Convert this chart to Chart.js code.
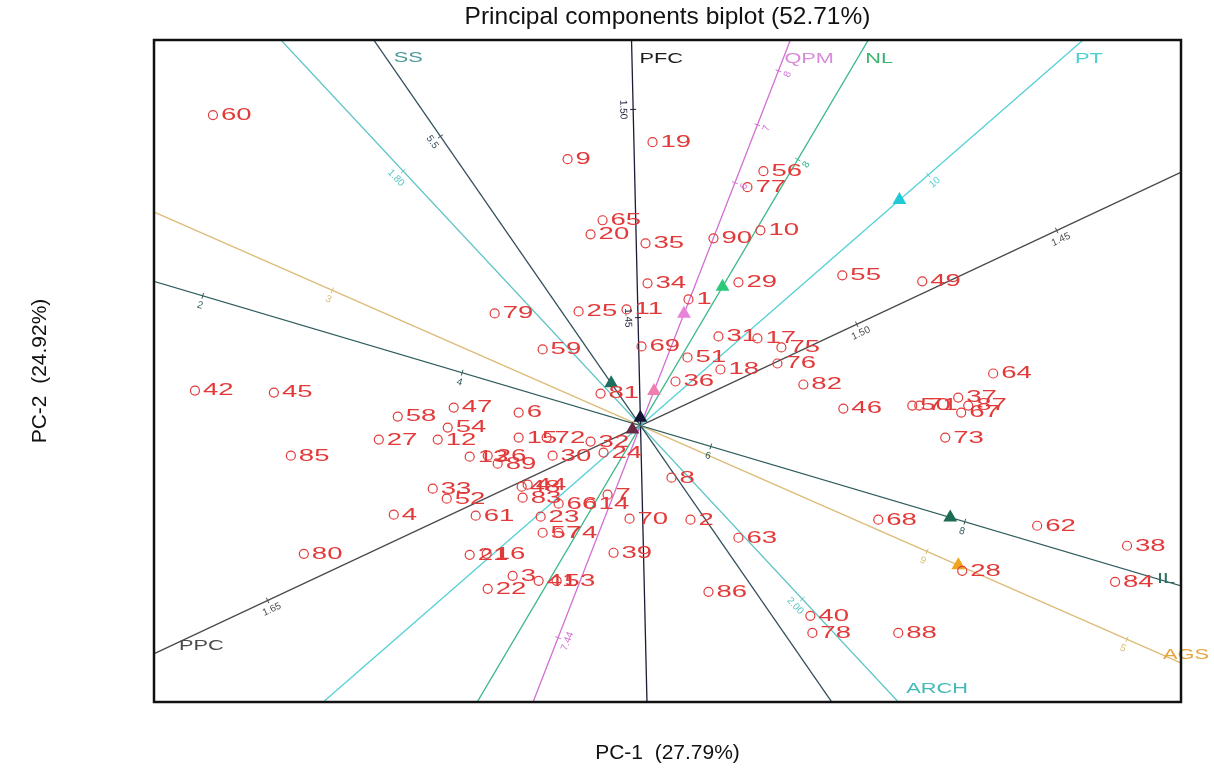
<!DOCTYPE html>
<html>
<head>
<meta charset="utf-8">
<title>Principal components biplot</title>
<script src="https://cdn.jsdelivr.net/npm/chart.js@4.4.1/dist/chart.umd.min.js"></script>
<style>
  html, body { margin: 0; padding: 0; background: #fff; }
  #wrap { width: 1214px; height: 775px; position: relative; }
</style>
</head>
<body>
<div id="wrap"><canvas id="biplot"></canvas></div>
<script>
// genotype scores (PC-1, PC-2)
const genotypes = ["60","9","19","56","77","65","20","35","90","10","34","29","1","25","11","79","55","49","69","59",
  "31","17","75","51","76","18","36","82","81","64","37","46","50","71","87","67","73","42","45","58",
  "47","54","27","12","85","6","15","72","32","30","24","8","13","26","89","33","52","48","44","83",
  "61","4","80","23","66","14","7","70","2","63","57","74","39","21","16","3","22","41","53","86",
  "40","78","88","68","62","38","28","84"];
const pc1 = [-4.28,-0.73,0.12,1.23,1.07,-0.38,-0.50,0.05,0.73,1.20,0.07,0.98,0.48,-0.62,-0.14,-1.46,2.02,2.82,0.01,-0.98,
  0.78,1.17,1.41,0.47,1.37,0.80,0.35,1.63,-0.40,3.53,3.18,2.03,2.72,2.79,3.28,3.21,3.05,-4.46,-3.67,-2.43,
  -1.87,-1.93,-2.62,-2.03,-3.50,-1.22,-1.22,-0.94,-0.50,-0.88,-0.37,0.31,-1.71,-1.53,-1.43,-2.08,-1.94,-1.19,-1.13,-1.18,
  -1.65,-2.47,-3.37,-1.00,-0.82,-0.50,-0.33,-0.11,0.50,0.98,-0.98,-0.82,-0.27,-1.71,-1.54,-1.28,-1.53,-1.02,-0.84,0.68,
  1.70,1.72,2.58,2.38,3.97,4.87,3.22,4.75];
const pc2 = [3.10,2.66,2.83,2.54,2.38,2.05,1.91,1.82,1.87,1.95,1.42,1.43,1.26,1.14,1.16,1.12,1.50,1.44,0.79,0.76,
  0.89,0.87,0.78,0.68,0.62,0.56,0.44,0.41,0.32,0.52,0.28,0.17,0.20,0.20,0.20,0.13,-0.12,0.35,0.33,0.09,
  0.18,-0.02,-0.14,-0.14,-0.30,0.13,-0.12,-0.12,-0.16,-0.30,-0.27,-0.52,-0.31,-0.30,-0.38,-0.63,-0.73,-0.61,-0.59,-0.72,
  -0.90,-0.89,-1.28,-0.91,-0.78,-0.78,-0.69,-0.93,-0.94,-1.12,-1.07,-1.07,-1.27,-1.29,-1.28,-1.50,-1.63,-1.55,-1.55,-1.66,
  -1.90,-2.07,-2.07,-0.94,-1.00,-1.20,-1.45,-1.56];

// trait vectors
const traitNames = ["SS","ARCH","PFC","QPM","NL","PT","PPC","IL","AGS"];
const traitPC1 = [-2.67,-3.60,-0.09,1.50,2.28,4.43,5.41,5.41,5.41];
const traitPC2 = [3.85,3.85,3.85,3.85,3.85,3.85,2.53,-1.60,-2.37];

// triangle markers along the vectors
const markerTrait = ["SS","QPM","QPM","NL","PT","IL","AGS","PFC","PPC"];
const markerPos = [0.11,0.29,0.09,0.36,0.585,0.573,0.588,0.02,-0.015];

// calibration ticks along the vectors
const tickTrait = ["PFC","PFC","SS","ARCH","ARCH","PPC","PPC","PPC","IL","IL","IL","IL","AGS","AGS","AGS","PT","QPM","QPM","QPM","QPM","NL"];
const tickPos = [0.82,0.28,0.75,0.66,-0.45,0.77,0.40,-0.69,-0.81,-0.33,0.13,0.60,-0.57,0.53,0.90,0.65,0.92,0.78,0.63,-0.55,0.69];
const tickText = ["1.50","1.45","5.5","1.80","2.00","1.45","1.50","1.65","2","4","6","8","3","9","5","10","8","7","6","7.44","8"];

const FONT = "'Liberation Sans', Arial, Helvetica, sans-serif";
const POINT_RED = "#e23a3a";

const traitStyle = {
  SS:   { line: "#34505e", text: "#4f9a9a", side: 1,  dx: 20,  dy: 18 },
  ARCH: { line: "#5cc4c4", text: "#45b8b8", side: -1, dx: 8,   dy: -13 },
  PFC:  { line: "#1c1c38", text: "#1c1c1c", side: 1,  dx: 8,   dy: 19 },
  QPM:  { line: "#d36fd3", text: "#d98ad9", side: 1,  dx: -6,  dy: 19 },
  NL:   { line: "#3cb88a", text: "#3cb371", side: 1,  dx: -3,  dy: 19 },
  PT:   { line: "#52d0d6", text: "#48cfd0", side: 1,  dx: -8,  dy: 19 },
  PPC:  { line: "#4a4a4a", text: "#4a4a4a", side: -1, dx: 25,  dy: -8 },
  IL:   { line: "#2f5d5d", text: "#2f6f5f", side: 1,  dx: -24, dy: -7 },
  AGS:  { line: "#dcbc78", text: "#e8a33a", side: 1,  dx: -18, dy: -8 },
};
const markerColors = ["#1f6f5f","#e884d8","#f07fb0","#2dc97a","#1fcad6","#1d6a55","#f2a31c","#141432","#6b2a44"];

function stretchText(ctx, text, x, y, sx) {
  ctx.save();
  ctx.translate(x, y);
  ctx.scale(sx, 1);
  ctx.fillText(text, 0, 0);
  ctx.restore();
}

function exitPoint(chart, i, side) {
  const a = chart.chartArea;
  const xs = chart.scales.x, ys = chart.scales.y;
  const ox = xs.getPixelForValue(0), oy = ys.getPixelForValue(0);
  const dx = xs.getPixelForValue(side * traitPC1[i]) - ox;
  const dy = ys.getPixelForValue(side * traitPC2[i]) - oy;
  const tx = Math.abs(dx) < 1e-9 ? Infinity : (dx > 0 ? (a.right - ox) / dx : (a.left - ox) / dx);
  const ty = Math.abs(dy) < 1e-9 ? Infinity : (dy > 0 ? (a.bottom - oy) / dy : (a.top - oy) / dy);
  const t = Math.min(tx, ty);
  return { x: ox + t * dx, y: oy + t * dy };
}

const biplotText = {
  id: "biplotText",
  afterDatasetsDraw(chart) {
    const ctx = chart.ctx;
    const area = chart.chartArea;
    const xs = chart.scales.x, ys = chart.scales.y;

    // ticks on the vectors
    ctx.save();
    ctx.beginPath();
    ctx.rect(area.left, area.top, area.right - area.left, area.bottom - area.top);
    ctx.clip();
    ctx.font = "10px " + FONT;
    ctx.textAlign = "center";
    ctx.textBaseline = "middle";
    for (let k = 0; k < tickTrait.length; k++) {
      const i = traitNames.indexOf(tickTrait[k]);
      const st = traitStyle[tickTrait[k]];
      const px = xs.getPixelForValue(tickPos[k] * traitPC1[i]);
      const py = ys.getPixelForValue(tickPos[k] * traitPC2[i]);
      let ang = Math.atan2(
        ys.getPixelForValue(traitPC2[i]) - ys.getPixelForValue(0),
        xs.getPixelForValue(traitPC1[i]) - xs.getPixelForValue(0)
      );
      if (ang > Math.PI / 2) ang -= Math.PI;
      if (ang <= -Math.PI / 2) ang += Math.PI;
      const nx = -Math.sin(ang), ny = Math.cos(ang);
      ctx.strokeStyle = st.line;
      ctx.lineWidth = 1;
      ctx.beginPath();
      ctx.moveTo(px - nx * 3, py - ny * 3);
      ctx.lineTo(px + nx * 3, py + ny * 3);
      ctx.stroke();
      ctx.fillStyle = st.line;
      ctx.save();
      ctx.translate(px + nx * 10, py + ny * 10);
      ctx.rotate(ang);
      ctx.fillText(tickText[k], 0, 0);
      ctx.restore();
    }
    ctx.restore();

    // genotype labels
    ctx.save();
    ctx.font = "16px " + FONT;
    ctx.fillStyle = POINT_RED;
    ctx.textAlign = "left";
    ctx.textBaseline = "middle";
    for (let i = 0; i < genotypes.length; i++) {
      const px = xs.getPixelForValue(pc1[i]);
      const py = ys.getPixelForValue(pc2[i]);
      stretchText(ctx, genotypes[i], px + 8, py + 0.5, 1.72);
    }
    ctx.restore();

    // trait names at the end of the vectors
    ctx.save();
    ctx.font = "15px " + FONT;
    ctx.textAlign = "left";
    ctx.textBaseline = "middle";
    for (let i = 0; i < traitNames.length; i++) {
      const st = traitStyle[traitNames[i]];
      const p = exitPoint(chart, i, st.side);
      ctx.fillStyle = st.text;
      stretchText(ctx, traitNames[i], p.x + st.dx, p.y + st.dy, 1.45);
    }
    ctx.restore();

    // plot frame
    ctx.save();
    ctx.strokeStyle = "#111";
    ctx.lineWidth = 2.5;
    ctx.strokeRect(area.left, area.top, area.right - area.left, area.bottom - area.top);
    ctx.restore();
  },
};

const vectorDatasets = traitNames.map(function (name, i) {
  return {
    label: name,
    data: [
      { x: -3 * traitPC1[i], y: -3 * traitPC2[i] },
      { x: 3 * traitPC1[i], y: 3 * traitPC2[i] },
    ],
    showLine: true,
    borderColor: traitStyle[name].line,
    borderWidth: 1.3,
    pointRadius: 0,
    fill: false,
    order: 2,
  };
});

const markerData = markerTrait.map(function (name, k) {
  const i = traitNames.indexOf(name);
  return { x: markerPos[k] * traitPC1[i], y: markerPos[k] * traitPC2[i] };
});

const genotypeData = genotypes.map(function (g, i) {
  return { x: pc1[i], y: pc2[i] };
});

new Chart(document.getElementById("biplot"), {
  type: "scatter",
  data: {
    datasets: [
      {
        label: "Genotypes",
        data: genotypeData,
        pointStyle: "circle",
        pointRadius: 4.5,
        pointBackgroundColor: "rgba(0,0,0,0)",
        pointBorderColor: POINT_RED,
        pointBorderWidth: 1.2,
        order: 0,
      },
      {
        label: "Markers",
        data: markerData,
        pointStyle: "triangle",
        pointRadius: 8,
        pointBackgroundColor: markerColors,
        pointBorderColor: markerColors,
        pointBorderWidth: 0,
        order: 1,
      },
    ].concat(vectorDatasets),
  },
  options: {
    responsive: true,
    maintainAspectRatio: false,
    animation: false,
    layout: { autoPadding: false, padding: { left: 0, right: 33, top: 0, bottom: 0 } },
    plugins: {
      legend: { display: false },
      tooltip: { enabled: false },
      title: {
        display: true,
        fullSize: false,
        text: "Principal components biplot (52.71%)",
        color: "#111",
        font: { family: FONT, size: 24.5, weight: "normal" },
        padding: { top: 3, bottom: 7.6 },
      },
    },
    scales: {
      x: {
        type: "linear",
        min: -4.87,
        max: 5.41,
        ticks: { display: false },
        grid: { display: false },
        border: { display: false },
        title: {
          display: true,
          text: "PC-1  (27.79%)",
          color: "#111",
          font: { family: FONT, size: 21 },
          padding: { top: 30.4, bottom: 9.4 },
        },
      },
      y: {
        type: "linear",
        min: -2.76,
        max: 3.85,
        ticks: { display: false },
        grid: { display: false },
        border: { display: false },
        title: {
          display: true,
          text: "PC-2  (24.92%)",
          color: "#111",
          font: { family: FONT, size: 21 },
          padding: { top: 27.4, bottom: 93.4 },
        },
      },
    },
  },
  plugins: [biplotText],
});
</script>
</body>
</html>
